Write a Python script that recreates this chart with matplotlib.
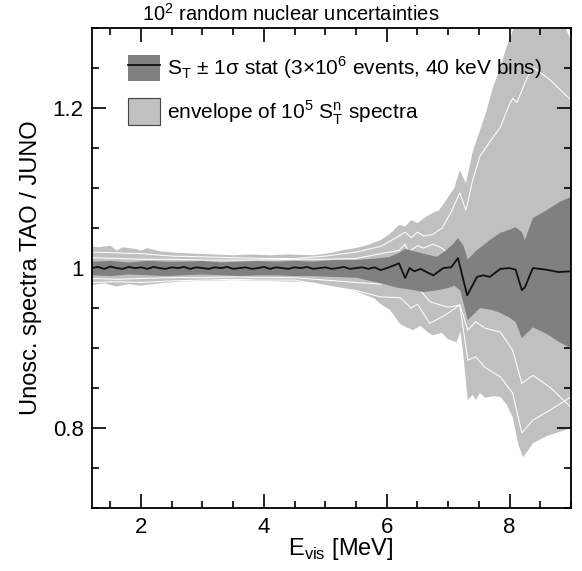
import numpy as np
import matplotlib
matplotlib.use("Agg")
import matplotlib.pyplot as plt
from matplotlib.patches import Patch
from matplotlib.lines import Line2D
from matplotlib.ticker import MultipleLocator

plt.rcParams['font.family'] = ['Liberation Sans', 'DejaVu Sans']
plt.rcParams['mathtext.fontset'] = 'custom'
plt.rcParams['mathtext.rm'] = 'Liberation Sans'

# light envelope of the 10^5 spectra, upper and lower edge
env_hi_x = [1.2, 1.3, 1.5, 1.6, 1.7, 1.9, 2.0, 2.1, 2.3, 2.6, 2.9, 3.2, 3.5, 3.8, 4.1, 4.4, 4.8,
            5.1, 5.3, 5.5, 5.7, 5.9, 6.0, 6.1, 6.2, 6.3, 6.4, 6.5, 6.6, 6.75, 6.85, 6.97, 7.1,
            7.19, 7.29, 7.4, 7.52, 7.62, 7.73, 7.85, 7.95, 8.07, 8.2, 8.5, 8.85, 9.0]
env_hi_y = [1.027, 1.026, 1.028, 1.022, 1.026, 1.024, 1.022, 1.025, 1.021, 1.019, 1.018, 1.017,
            1.016, 1.017, 1.016, 1.017, 1.016, 1.019, 1.0225, 1.025, 1.029, 1.035, 1.040, 1.046,
            1.054, 1.052, 1.060, 1.056, 1.062, 1.069, 1.072, 1.085, 1.100, 1.1225, 1.106, 1.145,
            1.1725, 1.195, 1.226, 1.250, 1.276, 1.300, 1.33, 1.34, 1.31, 1.285]
env_lo_x = [1.2, 1.4, 1.6, 1.8, 2.0, 2.3, 2.6, 3.0, 3.5, 4.0, 4.5, 4.8, 5.0, 5.2, 5.5, 5.8,
            5.9, 6.05, 6.22, 6.32, 6.43, 6.55, 6.65, 6.75, 6.9, 7.0, 7.14, 7.2, 7.25, 7.32, 7.4,
            7.45, 7.52, 7.6, 7.75, 7.85, 7.95, 8.05, 8.15, 8.22, 8.3, 8.38, 8.6, 8.8, 9.0]
env_lo_y = [0.979, 0.981, 0.977, 0.980, 0.978, 0.981, 0.983, 0.984, 0.985, 0.984, 0.983,
            0.982, 0.979, 0.976, 0.971, 0.962, 0.955, 0.948, 0.930, 0.926, 0.9225, 0.928,
            0.921, 0.916, 0.919, 0.911, 0.9075, 0.921, 0.890, 0.835, 0.842, 0.835, 0.844,
            0.838, 0.840, 0.839, 0.830, 0.814, 0.778, 0.764, 0.772, 0.781, 0.790, 0.795, 0.800]

# dark band: S_T +- 1 sigma stat
dk_hi_x = [1.2, 1.5, 1.8, 2.1, 2.4, 2.7, 3.0, 3.3, 3.6, 3.9, 4.2, 4.5, 4.8, 5.1, 5.5, 5.9,
           6.05, 6.2, 6.3, 6.45, 6.6, 6.82, 6.97, 7.08, 7.16, 7.25, 7.32, 7.47, 7.68, 7.85,
           8.0, 8.1, 8.2, 8.25, 8.38, 8.6, 8.8, 9.0]
dk_hi_y = [1.008, 1.009, 1.007, 1.009, 1.008, 1.008, 1.009, 1.007, 1.008, 1.009, 1.008,
           1.009, 1.008, 1.010, 1.010, 1.0125, 1.014, 1.019, 1.024, 1.021, 1.018, 1.014,
           1.0225, 1.030, 1.0375, 1.028, 1.011, 1.0225, 1.035, 1.044, 1.048, 1.051, 1.045,
           1.035, 1.0625, 1.072, 1.082, 1.089]
dk_lo_x = [1.2, 1.5, 1.8, 2.1, 2.4, 2.7, 3.0, 3.3, 3.6, 3.9, 4.2, 4.5, 4.8, 5.1, 5.5, 5.9,
           6.2, 6.4, 6.6, 6.8, 7.0, 7.1, 7.2, 7.32, 7.52, 7.7, 7.85, 8.0, 8.1, 8.2, 8.38,
           8.6, 8.8, 9.0]
dk_lo_y = [0.991, 0.990, 0.992, 0.991, 0.990, 0.991, 0.992, 0.991, 0.990, 0.991, 0.991,
           0.990, 0.990, 0.989, 0.988, 0.981, 0.975, 0.973, 0.970, 0.972, 0.975, 0.978,
           0.972, 0.935, 0.950, 0.948, 0.944, 0.938, 0.9325, 0.9125, 0.926, 0.918, 0.908, 0.900]

# central ratio S_T
mid_x = [1.2, 1.3, 1.4, 1.5, 1.6, 1.7, 1.8, 1.9, 2.0, 2.1, 2.2, 2.3, 2.4, 2.5, 2.6, 2.7, 2.8,
         2.9, 3.0, 3.1, 3.2, 3.3, 3.4, 3.5, 3.6, 3.7, 3.8, 3.9, 4.0, 4.1, 4.2, 4.3, 4.4, 4.5,
         4.6, 4.7, 4.8, 4.9, 5.0, 5.1, 5.2, 5.3, 5.4, 5.5, 5.6, 5.7, 5.8, 5.9, 6.0, 6.14,
         6.2, 6.3, 6.37, 6.45, 6.55, 6.65, 6.76, 6.92, 7.05, 7.16, 7.31, 7.47, 7.57, 7.68,
         7.85, 8.0, 8.1, 8.2, 8.25, 8.38, 8.6, 8.8, 9.0]
mid_y = [1.000, 1.0015, 0.999, 1.002, 1.000, 0.999, 1.0015, 1.000, 1.001, 0.999, 1.0015, 1.000,
         0.999, 1.001, 1.000, 1.0015, 0.999, 1.001, 1.000, 0.999, 1.001, 1.000, 1.0015, 0.999,
         1.000, 1.001, 0.999, 1.000, 1.0015, 0.999, 1.001, 1.000, 0.999, 1.001, 1.000, 1.0015,
         0.999, 1.000, 1.001, 0.999, 1.000, 1.0015, 0.999, 1.000, 1.001, 0.999, 1.001, 0.9975,
         1.000, 1.004, 1.006, 0.9875, 1.000, 0.996, 0.999, 0.995, 0.991, 1.000, 1.001,
         1.0125, 0.966, 0.989, 0.991, 0.989, 0.999, 1.000, 0.998, 0.9725, 0.976, 1.000,
         0.998, 0.995, 0.996]

# four individual spectra (white lines)
wa_x = [1.2, 1.6, 2.0, 2.5, 3.0, 3.5, 4.0, 4.5, 5.0, 5.5, 5.9, 6.2, 6.3, 6.4, 6.5, 6.6, 6.75,
        6.9, 7.05, 7.19, 7.29, 7.4, 7.52, 7.7, 7.85, 8.0, 8.05, 8.12, 8.3, 8.4, 8.66, 9.0]
wa_y = [1.020, 1.019, 1.018, 1.015, 1.014, 1.013, 1.012, 1.012, 1.015, 1.020, 1.027, 1.040,
        1.045, 1.038, 1.045, 1.040, 1.042, 1.050, 1.070, 1.094, 1.072, 1.110, 1.140, 1.160,
        1.176, 1.205, 1.212, 1.207, 1.240, 1.250, 1.235, 1.210]
wb_x = [1.2, 1.6, 2.0, 2.5, 3.0, 3.5, 4.0, 4.5, 5.0, 5.5, 5.9, 6.2, 6.3, 6.35, 6.5, 6.6,
        6.75, 6.9, 7.05, 7.2, 7.3, 8.0, 9.0]
wb_y = [1.013, 1.012, 1.011, 1.011, 1.010, 1.010, 1.010, 1.011, 1.011, 1.012, 1.018, 1.022,
        1.030, 1.020, 1.028, 1.025, 1.030, 1.025, 1.015, 1.005, 0.990, 1.000, 1.000]
wc_x = [1.2, 1.6, 2.0, 2.5, 3.0, 3.5, 4.0, 4.5, 5.0, 5.5, 5.9, 6.22, 6.33, 6.45, 6.55, 6.7,
        7.0, 7.19, 7.32, 7.45, 7.6, 7.85, 8.05, 8.2, 8.38, 8.66, 9.0]
wc_y = [0.987, 0.986, 0.987, 0.988, 0.988, 0.989, 0.988, 0.988, 0.985, 0.982, 0.980, 0.985,
        0.976, 0.978, 0.972, 0.958, 0.951, 0.954, 0.9225, 0.933, 0.925, 0.920, 0.8975,
        0.856, 0.866, 0.851, 0.826]
wd_x = [1.2, 1.6, 2.0, 2.5, 3.0, 3.5, 4.0, 4.5, 5.0, 5.5, 5.9, 6.22, 6.4, 6.5, 6.7, 6.95,
        7.19, 7.32, 7.45, 7.6, 7.85, 8.05, 8.2, 8.38, 8.66, 9.0]
wd_y = [0.982, 0.983, 0.982, 0.984, 0.985, 0.986, 0.985, 0.985, 0.978, 0.972, 0.964, 0.963,
        0.950, 0.955, 0.931, 0.941, 0.954, 0.885, 0.889, 0.876, 0.864, 0.844, 0.794, 0.810,
        0.8225, 0.839]

light = '#c0c0c0'
dark = '#808080'

fig = plt.figure(figsize=(5.82, 5.71), dpi=100)
ax = fig.add_axes([0.158, 0.110, 0.823, 0.841])

ax.fill(np.r_[env_hi_x, env_lo_x[::-1]], np.r_[env_hi_y, env_lo_y[::-1]],
        color=light, lw=0, zorder=1)
for wx, wy in [(wa_x, wa_y), (wb_x, wb_y), (wc_x, wc_y), (wd_x, wd_y)]:
    ax.plot(wx, wy, color='white', lw=0.75, zorder=2)
ax.fill(np.r_[dk_hi_x, dk_lo_x[::-1]], np.r_[dk_hi_y, dk_lo_y[::-1]],
        color=dark, lw=0, zorder=3)
ax.plot(mid_x, mid_y, color='#111111', lw=1.3, zorder=4)

ax.set_xlim(1.2, 9.0)
ax.set_ylim(0.7, 1.3)
ax.xaxis.set_major_locator(MultipleLocator(2))
ax.xaxis.set_minor_locator(MultipleLocator(0.5))
ax.yaxis.set_minor_locator(MultipleLocator(0.05))
ax.set_yticks([0.8, 1.0, 1.2])
ax.set_yticklabels(['0.8', '1', '1.2'])
ax.tick_params(which='both', direction='in', top=True, right=True, labelsize=16, width=1.2)
ax.tick_params(which='major', length=10, pad=6)
ax.tick_params(which='minor', length=5)
for s in ax.spines.values():
    s.set_linewidth(1.3)
    s.set_zorder(5)

ax.set_xlabel(r'E$_\mathregular{vis}$ [MeV]', fontsize=17)
ax.xaxis.set_label_coords(0.52, -0.058)
ax.set_ylabel('Unosc. spectra TAO / JUNO', fontsize=17, labelpad=8)
fig.suptitle(r'10$^\mathregular{2}$ random nuclear uncertainties', fontsize=14.5,
             x=0.5, y=0.995, va='top')

h1 = (Patch(facecolor=dark, edgecolor='none'), Line2D([], [], color='#111111', lw=1.3))
h2 = Patch(facecolor=light, edgecolor='#444444', lw=0.8)
ax.legend([h1, h2],
          [r'S$_\mathregular{T}$ ± 1σ stat (3×10$^\mathregular{6}$ events, 40 keV bins)',
           r'envelope of 10$^\mathregular{5}$ S$_\mathregular{T}^\mathregular{n}$ spectra'],
          loc='upper left', bbox_to_anchor=(0.075, 0.945), frameon=False, fontsize=15,
          handlelength=1.55, handleheight=1.6, handletextpad=0.35, labelspacing=0.8,
          borderaxespad=0, borderpad=0)

fig.savefig('out.png', dpi=100)
